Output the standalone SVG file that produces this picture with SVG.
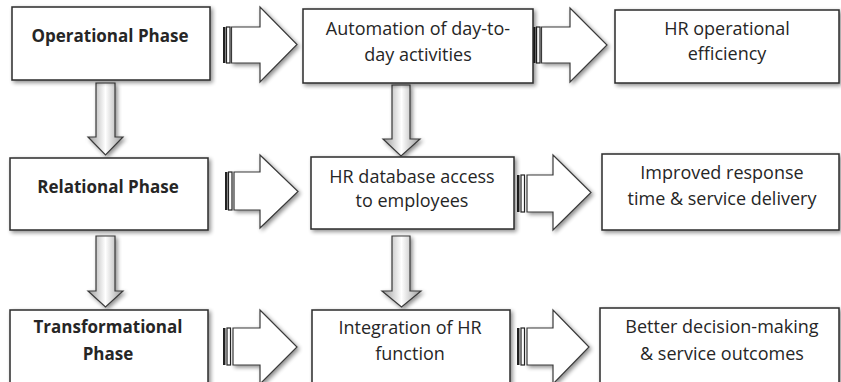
<svg xmlns="http://www.w3.org/2000/svg" width="841" height="382" viewBox="0 0 841 382">
<defs>
<filter id="sh" x="-10%" y="-10%" width="130%" height="140%">
<feGaussianBlur in="SourceAlpha" stdDeviation="2.2"/>
<feOffset dx="1.5" dy="2" result="b"/>
<feComponentTransfer><feFuncA type="linear" slope="0.45"/></feComponentTransfer>
<feMerge><feMergeNode/><feMergeNode in="SourceGraphic"/></feMerge>
</filter>
<linearGradient id="dg" x1="0" y1="0" x2="1" y2="0">
<stop offset="0" stop-color="#9a9a9a"/>
<stop offset="0.5" stop-color="#ffffff"/>
<stop offset="1" stop-color="#9a9a9a"/>
</linearGradient>
<style>
.box{fill:#fff;stroke:#2b2b2b;stroke-width:1.5;filter:url(#sh)}
.t{font-family:"Open Sans","Liberation Sans",sans-serif;font-size:18px;fill:#262626;text-anchor:middle}
.b{font-weight:bold;font-size:17px}
.ar{fill:#fff;stroke:#3a3a3a;stroke-width:1.2;stroke-linejoin:miter;filter:url(#sh)}
.da{fill:url(#dg);stroke:#3a3a3a;stroke-width:1.2;filter:url(#sh)}
.s1{fill:#222}
.s2{fill:#fff;stroke:#222;stroke-width:1.2}
</style>
</defs>
<rect width="841" height="382" fill="#fff"/>
<g id="connectors">
<path class="da" d="M96,83 H115 V137 H123 L105.5,155 L88,137 H96 Z"/>
<path class="da" d="M96,236 H115 V291 H123 L105.5,307 L88,291 H96 Z"/>
<path class="da" d="M392,85 H410 V139 H420 L401,156 L383,139 H392 Z"/>
<path class="da" d="M392,236 H410 V291 H421 L401.5,307 L382,291 H392 Z"/>
<g id="r1">
<path class="ar" d="M231.5,27 H260 V7 L297,44.5 L260,82 V63 H231.5 Z"/>
<rect class="s1" x="223" y="27" width="2.5" height="36"/>
<rect class="s2" x="226.5" y="27" width="3.5" height="36"/>
</g>
<g id="r2">
<path class="ar" d="M541.5,27 H570 V8 L607,45 L570,82 V63 H541.5 Z"/>
<rect class="s1" x="533" y="27" width="2.5" height="36"/>
<rect class="s2" x="536.5" y="27" width="3.5" height="36"/>
</g>
<g id="r3">
<path class="ar" d="M234,172 H260 V155 L298,191.5 L260,228 V210 H234 Z"/>
<rect class="s1" x="225" y="172" width="2.5" height="38"/>
<rect class="s2" x="228.5" y="172" width="3.5" height="38"/>
</g>
<g id="r4">
<path class="ar" d="M527,175 H553 V155 L591,192.5 L553,230 V212 H527 Z"/>
<rect class="s1" x="517" y="175" width="2.5" height="37"/>
<rect class="s2" x="521" y="175" width="3.5" height="37"/>
</g>
<g id="r5">
<path class="ar" d="M233,328 H260 V310 L297,347 L260,384 V365 H233 Z"/>
<rect class="s1" x="223" y="328" width="2.5" height="37"/>
<rect class="s2" x="227" y="328" width="3.5" height="37"/>
</g>
<g id="r6">
<path class="ar" d="M527,328 H553 V310 L589,347 L553,384 V365 H527 Z"/>
<rect class="s1" x="517" y="328" width="2.5" height="37"/>
<rect class="s2" x="521" y="328" width="3.5" height="37"/>
</g>
</g>
<g id="operational"><rect class="box" x="12" y="7" width="198" height="73"/><text class="t b" x="110" y="42">Operational Phase</text></g>
<g id="automation"><rect class="box" x="303" y="9" width="230" height="74"/><text class="t" x="418" y="35">Automation of day-to-</text><text class="t" x="418" y="61">day activities</text></g>
<g id="efficiency"><rect class="box" x="615" y="10" width="224" height="73"/><text class="t" x="727" y="35">HR operational</text><text class="t" x="727" y="60">efficiency</text></g>
<g id="relational"><rect class="box" x="10" y="158" width="198" height="72"/><text class="t b" x="108" y="193">Relational Phase</text></g>
<g id="database"><rect class="box" x="311" y="157" width="203" height="72"/><text class="t" x="412" y="183">HR database access</text><text class="t" x="412" y="207">to employees</text></g>
<g id="response"><rect class="box" x="602" y="154" width="237" height="76"/><text class="t" x="722" y="179">Improved response</text><text class="t" x="722" y="205">time &amp; service delivery</text></g>
<g id="transformational"><rect class="box" x="10" y="310" width="198" height="82"/><text class="t b" x="108" y="333">Transformational</text><text class="t b" x="108" y="360">Phase</text></g>
<g id="integration"><rect class="box" x="312" y="310" width="198" height="82"/><text class="t" x="410" y="334">Integration of HR</text><text class="t" x="410" y="360">function</text></g>
<g id="better"><rect class="box" x="600" y="308" width="239" height="84"/><text class="t" x="722" y="333">Better decision-making</text><text class="t" x="722" y="360">&amp; service outcomes</text></g>
</svg>
